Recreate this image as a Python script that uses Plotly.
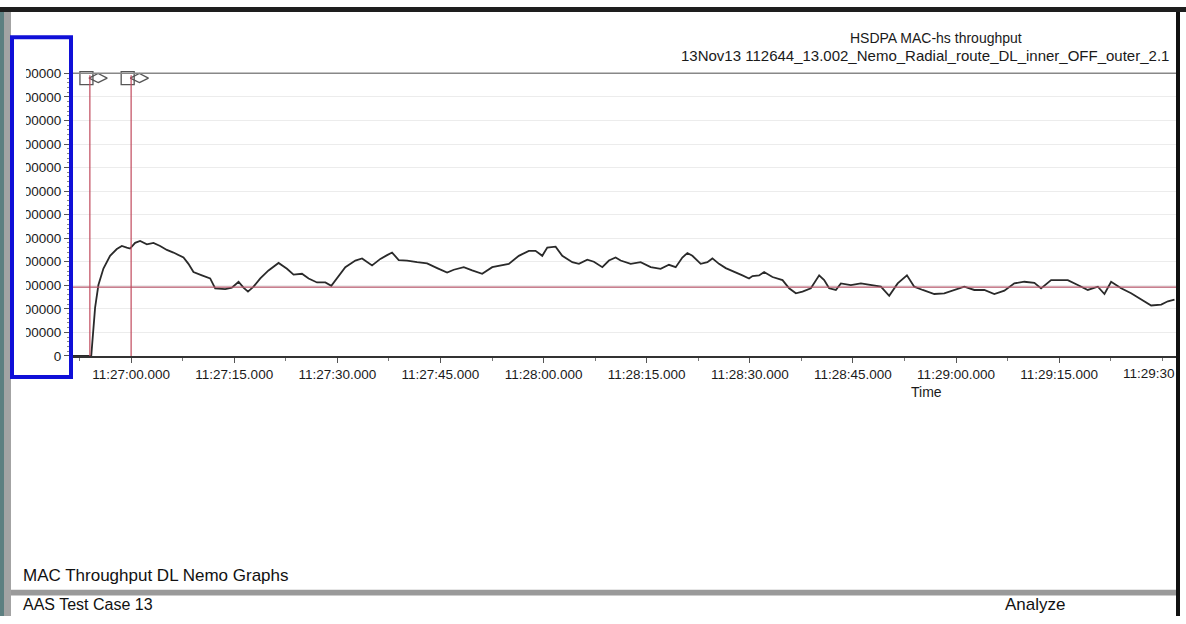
import pandas as pd
import plotly.graph_objects as go

# ---------------- data ----------------
# seconds relative to 11:27:00.000 on 13 Nov 2013
t_sec = [-8.6, -5.8, -5.24, -4.76, -4.03, -3.06, -2.08, -1.35, -0.63, -0.15, 0.58, 1.31, 2.29, 3.25,
         4.22, 5.20, 6.16, 7.62, 8.34, 9.07, 10.30, 11.50, 12.23, 13.69, 14.66, 15.63, 16.35, 17.00,
         17.81, 18.79, 19.99, 21.45, 22.67, 23.63, 24.86, 25.82, 27.04, 28.25, 29.12, 29.95, 30.92,
         31.16, 32.62, 33.60, 35.05, 36.26, 37.24, 37.96, 38.93, 40.15, 41.60, 43.06, 44.52, 45.97,
         46.94, 48.39, 49.61, 51.07, 52.53, 53.98, 54.94, 56.40, 57.86, 58.83, 59.81, 60.54, 61.75,
         62.72, 64.18, 65.14, 66.36, 67.32, 68.55, 69.51, 70.48, 71.21, 72.67, 74.12, 75.58, 77.03,
         78.24, 79.22, 80.19, 80.92, 81.65, 82.86, 83.83, 84.56, 85.52, 86.50, 87.71, 88.93, 89.89,
         90.39, 91.35, 92.08, 93.30, 94.76, 95.72, 96.70, 97.67, 98.88, 100.09, 100.82, 101.54,
         102.52, 103.25, 104.70, 106.16, 107.62, 109.07, 110.28, 111.51, 112.86, 113.92, 115.15,
         116.84, 118.29, 119.75, 121.20, 122.66, 124.12, 125.57, 127.03, 128.48, 129.94, 131.40,
         132.37, 133.83, 136.26, 137.71, 139.17, 140.63, 141.59, 142.56, 144.02, 145.47, 146.93,
         148.39, 149.85, 150.82, 151.78]
throughput = [0, 0, 205000, 301000, 371000, 425000, 454000, 467000, 460000, 456000, 480000, 488000,
              474000, 480000, 467000, 450000, 439000, 418000, 391000, 356000, 342000, 329000, 287000,
              284000, 290000, 315000, 290000, 273000, 294000, 329000, 363000, 395000, 370000, 345000,
              349000, 329000, 312000, 312000, 298000, 329000, 370000, 377000, 405000, 414000, 384000,
              412000, 428000, 439000, 407000, 405000, 398000, 393000, 373000, 354000, 366000, 377000,
              363000, 349000, 377000, 384000, 391000, 425000, 446000, 446000, 425000, 460000, 464000,
              425000, 398000, 391000, 409000, 400000, 377000, 405000, 418000, 405000, 391000, 398000,
              377000, 370000, 387000, 377000, 418000, 437000, 425000, 391000, 398000, 414000, 391000,
              373000, 356000, 342000, 329000, 339000, 342000, 356000, 335000, 322000, 287000, 266000,
              273000, 287000, 342000, 322000, 287000, 280000, 308000, 301000, 308000, 301000, 294000,
              255000, 308000, 342000, 294000, 280000, 263000, 266000, 280000, 294000, 280000, 280000,
              263000, 277000, 308000, 315000, 310000, 287000, 322000, 322000, 301000, 280000, 294000,
              263000, 315000, 287000, 266000, 241000, 214000, 218000, 232000, 239000]
threshold_level = 292000
event_sec = [-6.0, 0.0]
y_tick_vals = [0, 100000, 200000, 300000, 400000, 500000, 600000, 700000, 800000, 900000,
               1000000, 1100000, 1200000]
y_tick_text = ["0"] + ["00000"] * 12
x_tick_sec = [0, 15, 30, 45, 60, 75, 90, 105, 120, 135, 150]
x_tick_text = ["11:27:00.000", "11:27:15.000", "11:27:30.000", "11:27:45.000", "11:28:00.000",
               "11:28:15.000", "11:28:30.000", "11:28:45.000", "11:29:00.000", "11:29:15.000",
               "11:29:30"]
x_range_sec = [-8.6, 152.0]

base = pd.Timestamp("2013-11-13 11:27:00")
def ts(s):
    return base + pd.to_timedelta(s, unit="s")

x_time = [ts(s) for s in t_sec]
x_events = [ts(s) for s in event_sec]

W, H = 1186, 624
def px(x):
    return x / W
def py(y):
    return 1 - y / H

FONT = "Liberation Sans, Arial, sans-serif"
TICKSIZE = 13.5

fig = go.Figure()
fig.add_trace(go.Scatter(x=x_time, y=throughput, mode="lines",
                         line=dict(color="#2a2a2a", width=1.8), showlegend=False,
                         hoverinfo="skip"))
# event markers (flag icons)
fig.add_trace(go.Scatter(x=[ts(s - 0.5) for s in event_sec], y=[1180000] * len(event_sec),
                         mode="markers", cliponaxis=False,
                         marker=dict(symbol="square-open", size=13, color="#555555",
                                     line=dict(width=1.3)),
                         showlegend=False, hoverinfo="skip"))
fig.add_trace(go.Scatter(x=[ts(s + 1.2) for s in event_sec], y=[1180000] * len(event_sec),
                         mode="markers", cliponaxis=False,
                         marker=dict(symbol="diamond-wide-open", size=13, color="#555555",
                                     line=dict(width=1.3)),
                         showlegend=False, hoverinfo="skip"))

shapes = []
# threshold line
shapes.append(dict(type="line", xref="paper", yref="y", x0=px(72), x1=px(1176),
                   y0=threshold_level, y1=threshold_level,
                   line=dict(color="#b5566a", width=1.2), layer="above"))
for xe in x_events:
    shapes.append(dict(type="line", xref="x", yref="paper", x0=xe, x1=xe,
                       y0=py(357.5), y1=py(70), line=dict(color="#c0495c", width=1.2),
                       layer="above"))
# top border of plot
shapes.append(dict(type="line", xref="paper", yref="paper", x0=px(72), x1=px(1176),
                   y0=py(68), y1=py(68), line=dict(color="#888888", width=1.5)))
# window frame
shapes.append(dict(type="rect", xref="paper", yref="paper", x0=0, x1=1, y0=py(5), y1=1,
                   fillcolor="#1e1e1e", line=dict(width=0), layer="above"))
shapes.append(dict(type="rect", xref="paper", yref="paper", x0=0, x1=px(4), y0=0, y1=py(5),
                   fillcolor="#5d7f80", line=dict(width=0), layer="above"))
shapes.append(dict(type="rect", xref="paper", yref="paper", x0=px(4), x1=px(11), y0=0, y1=py(5),
                   fillcolor="#a3a3a3", line=dict(width=0), layer="above"))
shapes.append(dict(type="rect", xref="paper", yref="paper", x0=px(1176), x1=px(1180), y0=0,
                   y1=py(5), fillcolor="#111111", line=dict(width=0), layer="above"))
# clip of the y tick labels' leading digit
shapes.append(dict(type="rect", xref="paper", yref="paper", x0=px(12), x1=px(26),
                   y0=py(370), y1=py(60), fillcolor="#ffffff", line=dict(width=0),
                   layer="above"))
# bottom separator bar
shapes.append(dict(type="rect", xref="paper", yref="paper", x0=px(11), x1=px(1176),
                   y0=py(603), y1=py(597), fillcolor="#9a9a9a", line=dict(width=0),
                   layer="above"))
# blue highlight box
shapes.append(dict(type="rect", xref="paper", yref="paper", x0=px(12), x1=px(71),
                   y0=py(379), y1=py(31), line=dict(color="#1010d8", width=4),
                   fillcolor="rgba(0,0,0,0)", layer="above"))

annotations = [
    dict(text="HSDPA MAC-hs throughput", xref="paper", yref="paper", x=px(936), y=py(32),
         showarrow=False, font=dict(size=14, color="#1a1a1a", family=FONT),
         xanchor="center", yanchor="middle"),
    dict(text="13Nov13 112644_13.002_Nemo_Radial_route_DL_inner_OFF_outer_2.1", xref="paper",
         yref="paper", x=px(1171), y=py(50), showarrow=False,
         font=dict(size=15, color="#1a1a1a", family=FONT), xanchor="right", yanchor="middle"),
    dict(text="Time", xref="paper", yref="paper", x=px(927), y=py(394), showarrow=False,
         font=dict(size=14, color="#1a1a1a", family=FONT), xanchor="center", yanchor="middle"),
    dict(text="MAC Throughput DL Nemo Graphs", xref="paper", yref="paper", x=px(21), y=py(583),
         showarrow=False, font=dict(size=17, color="#111111", family=FONT), xanchor="left",
         yanchor="middle"),
    dict(text="AAS Test Case 13", xref="paper", yref="paper", x=px(21), y=py(612),
         showarrow=False, font=dict(size=16, color="#111111", family=FONT), xanchor="left",
         yanchor="middle"),
    dict(text="Analyze", xref="paper", yref="paper", x=px(1003), y=py(612), showarrow=False,
         font=dict(size=17, color="#111111", family=FONT), xanchor="left", yanchor="middle"),
    # last time tick label, truncated by the window edge in the original
    dict(text=x_tick_text[-1], xref="x", yref="paper", x=ts(x_tick_sec[-1]), y=py(376),
         xshift=-41, showarrow=False, font=dict(size=TICKSIZE, color="#1a1a1a", family=FONT),
         xanchor="left", yanchor="middle"),
]

fig.update_layout(
    width=W, height=H,
    margin=dict(l=0, r=0, t=0, b=0),
    paper_bgcolor="white", plot_bgcolor="white",
    font=dict(family=FONT, color="#1a1a1a"),
    shapes=shapes, annotations=annotations,
    xaxis=dict(domain=[px(72), px(1176)], type="date",
               range=[ts(x_range_sec[0]), ts(x_range_sec[1])],
               tickmode="array", tickvals=[ts(s) for s in x_tick_sec[:-1]],
               ticktext=x_tick_text[:-1],
               ticks="outside", ticklen=5, tickcolor="#555555",
               minor=dict(ticks="outside", ticklen=3, dtick=7500, tickcolor="#777777",
                          showgrid=False),
               showgrid=False, showline=True, linecolor="#333333", linewidth=2,
               tickfont=dict(size=TICKSIZE, color="#1a1a1a"), zeroline=False, fixedrange=True),
    yaxis=dict(domain=[py(357.5), py(68)], range=[0, 1200000],
               tickmode="array", tickvals=y_tick_vals, ticktext=y_tick_text,
               ticks="outside", ticklen=6, tickcolor="#555555",
               minor=dict(ticks="outside", ticklen=3, dtick=20000, tickcolor="#888888",
                          showgrid=False),
               showgrid=True, gridcolor="#ececec", gridwidth=1,
               showline=True, linecolor="#333333", linewidth=2, zeroline=False,
               tickfont=dict(size=TICKSIZE, color="#1a1a1a"), fixedrange=True),
)

page_fix = (
    "document.documentElement.style.margin='0';document.documentElement.style.padding='0';"
    "document.documentElement.style.overflow='hidden';"
    "document.body.style.margin='0';document.body.style.padding='0';"
    "document.body.style.overflow='hidden';"
    "var gd=document.getElementById('{plot_id}');gd.style.position='fixed';"
    "gd.style.top='0px';gd.style.left='0px';"
)
fig.write_html("out.html", post_script=page_fix)
